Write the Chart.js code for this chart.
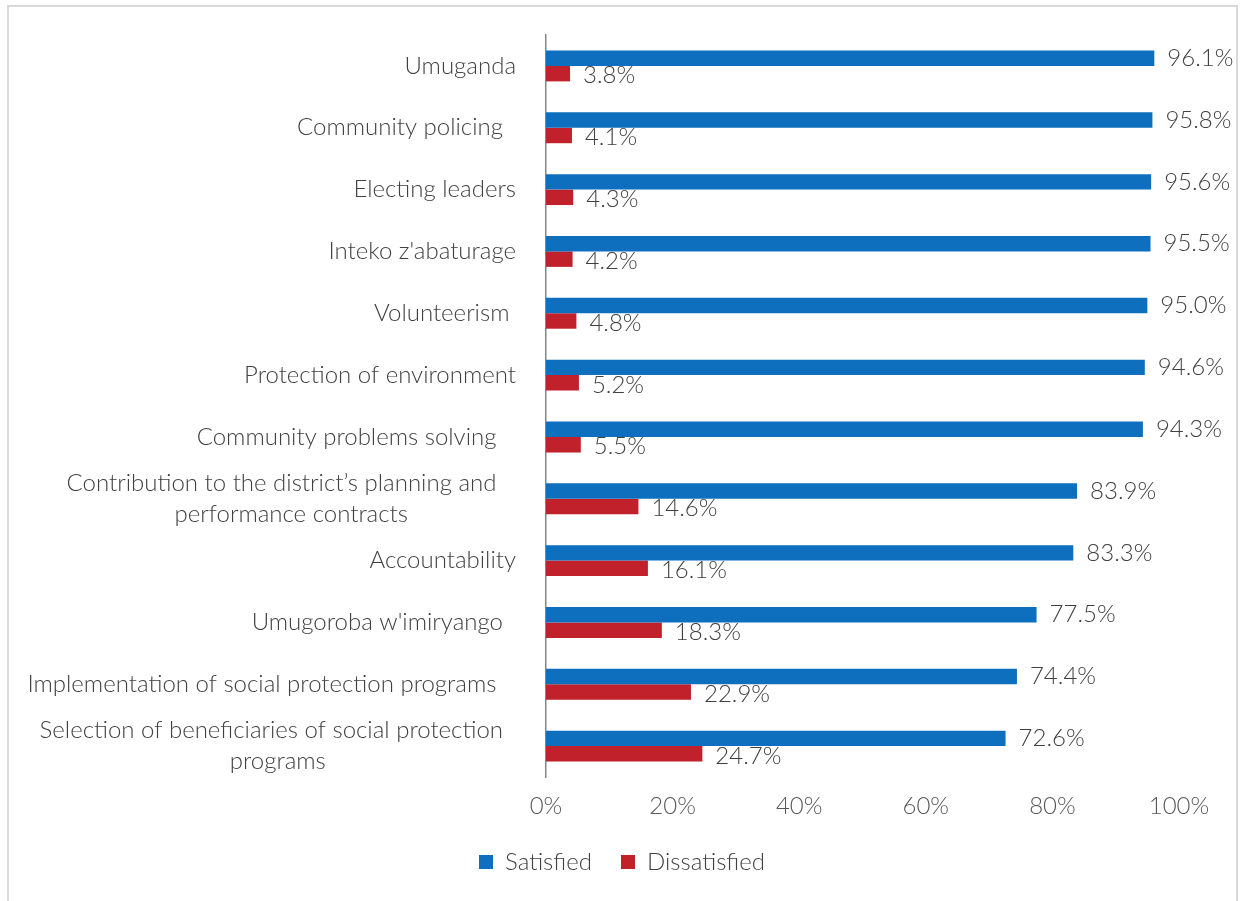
<!DOCTYPE html>
<html>
<head>
<meta charset="utf-8">
<title>Satisfaction with participation</title>
<script src="https://cdn.jsdelivr.net/npm/chart.js@4.4.1/dist/chart.umd.min.js"></script>
<style>
    body { margin: 0; background: #fff; overflow: hidden; }
    #frame { position: absolute; left: 7px; top: 5px; width: 1227px; height: 1000px; border: 2px solid #d9d9d9; }
    #Chart1 { position: absolute; left: 0; top: 0; }
</style>
</head>
<body>
<div id="frame"></div>
<canvas id="Chart1" width="1244" height="884"></canvas>
<script>
const categories = [
    'Umuganda',
    'Community policing  ',
    'Electing leaders',
    "Inteko z'abaturage",
    'Volunteerism ',
    'Protection of environment',
    'Community problems solving   ',
    ['Contribution to the district\u2019s planning and   ', 'performance contracts'],
    'Accountability',
    "Umugoroba w'imiryango  ",
    'Implementation of social protection programs   ',
    ['Selection of beneficiaries of social protection  ', 'programs']
];
const satisfied = [96.1, 95.8, 95.6, 95.5, 95.0, 94.6, 94.3, 83.9, 83.3, 77.5, 74.4, 72.6];
const dissatisfied = [3.8, 4.1, 4.3, 4.2, 4.8, 5.2, 5.5, 14.6, 16.1, 18.3, 22.9, 24.7];
const xMin = 0;
const xMax = 100;
const xStep = 20;

const textFont = '300 24px Lato';
const textColor = '#404040';

// value labels at the end of each bar
const valueLabels = {
    id: 'valueLabels',
    afterDatasetsDraw(chart) {
        const ctx = chart.ctx;
        ctx.save();
        ctx.font = textFont;
        ctx.fillStyle = textColor;
        ctx.textAlign = 'left';
        ctx.textBaseline = 'middle';
        chart.data.datasets.forEach(function (ds, i) {
            chart.getDatasetMeta(i).data.forEach(function (bar, j) {
                ctx.fillText(ds.data[j].toFixed(1) + '%', bar.x + 13, bar.y + (i === 1 ? 2 : 0));
            });
        });
        ctx.restore();
    }
};

// category labels: block right aligned, lines centred inside the block
const categoryLabels = {
    id: 'categoryLabels',
    afterDraw(chart) {
        const ctx = chart.ctx;
        const yScale = chart.scales.y;
        const right = yScale.right - 30;
        ctx.save();
        ctx.font = textFont;
        ctx.fillStyle = textColor;
        ctx.textAlign = 'center';
        ctx.textBaseline = 'middle';
        categories.forEach(function (label, i) {
            const lines = [].concat(label);
            const w = Math.max.apply(null, lines.map(l => ctx.measureText(l).width));
            const cx = right - w / 2;
            const cy = yScale.getPixelForTick(i);
            lines.forEach(function (line, k) {
                ctx.fillText(line, cx, cy + (k - (lines.length - 1) / 2) * 31);
            });
        });
        ctx.restore();
    }
};

Chart.defaults.font.family = 'Lato';
Chart.defaults.font.weight = 300;
Chart.defaults.font.size = 24;
Chart.defaults.color = textColor;

const ctx = document.getElementById('Chart1').getContext('2d');
const satisfactionChart = new Chart(ctx, {
    type: 'bar',
    data: {
        labels: categories,
        datasets: [{
                label: 'Satisfied',
                data: satisfied,
                backgroundColor: '#0F6FBF',
                borderWidth: 0,
                categoryPercentage: 0.5,
                barPercentage: 1.0
            }, {
                label: 'Dissatisfied',
                data: dissatisfied,
                backgroundColor: '#C0212A',
                borderWidth: 0,
                categoryPercentage: 0.5,
                barPercentage: 1.0
            }]
    },
    options: {
        indexAxis: 'y',
        responsive: false,
        animation: false,
        layout: {padding: {top: 35, right: 65, bottom: 0, left: 65}},
        plugins: {
            tooltip: {enabled: false},
            legend: {
                position: 'bottom',
                labels: {boxWidth: 14, boxHeight: 14, padding: 29, color: textColor}
            }
        },
        scales: {
            x: {
                min: xMin,
                max: xMax,
                grid: {display: false, drawTicks: false},
                border: {display: false},
                ticks: {
                    stepSize: xStep,
                    padding: 15,
                    color: '#595959',
                    callback: v => v + '%'
                },
                afterFit: function (scale) { scale.height = 44; }
            },
            y: {
                grid: {display: false, drawTicks: false},
                border: {display: true, color: '#858585', width: 1.5},
                ticks: {display: false},
                afterFit: function (scale) { scale.width = 546 - 65; }
            }
        }
    },
    plugins: [valueLabels, categoryLabels]
});
</script>
</body>
</html>
